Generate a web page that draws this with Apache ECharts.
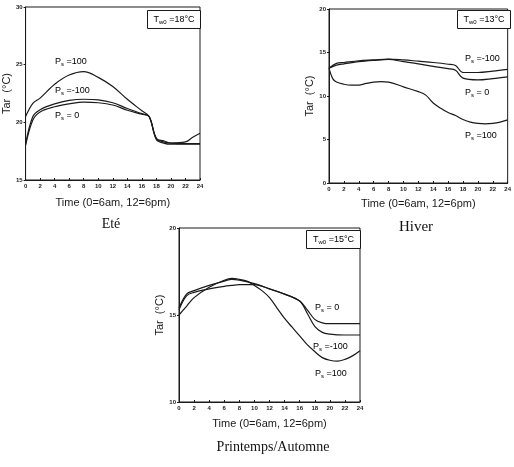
<!DOCTYPE html>
<html>
<head>
<meta charset="utf-8">
<script src="https://cdn.jsdelivr.net/npm/echarts@6/dist/echarts.min.js"></script>
<style>
  html, body { margin: 0; padding: 0; background: #fff; }
  #main { width: 514px; height: 467px; }
</style>
</head>
<body>
<div id="main"></div>
<script>
// x ticks (hours, 0 = 6am)
var hourTicks = [0, 2, 4, 6, 8, 10, 12, 14, 16, 18, 20, 22, 24];

// Eté  (Tw0 = 18°C)
var eteHours = [0, 1, 2, 4, 6, 8, 10, 12, 14, 16, 17, 18, 19, 20, 22, 23, 24];
var eteP100 = [20.5, 21.65, 22.1, 23.3, 24.1, 24.4, 23.9, 23.1, 22.0, 21.0, 20.5, 18.6, 18.4, 18.2, 18.3, 18.7, 19.05];
var eteM100 = [18.1, 20.5, 21.1, 21.6, 21.9, 22.0, 21.95, 21.7, 21.2, 20.75, 20.5, 18.6, 18.3, 18.2, 18.15, 18.15, 18.15];
var eteP0 = [18.0, 20.2, 20.9, 21.35, 21.6, 21.75, 21.7, 21.5, 21.05, 20.7, 20.5, 18.5, 18.2, 18.1, 18.1, 18.1, 18.1];

// Hiver  (Tw0 = 13°C)
var hivHours = [0, 1, 2, 4, 6, 8, 10, 12, 14, 16, 17, 18, 20, 22, 24];
var hivM100 = [13.2, 13.75, 13.85, 14.05, 14.15, 14.25, 14.15, 14.0, 13.85, 13.65, 13.5, 12.7, 12.7, 12.85, 13.05];
var hivP0 = [13.2, 13.55, 13.7, 13.95, 14.1, 14.2, 13.95, 13.7, 13.4, 13.15, 12.95, 12.05, 11.85, 12.0, 12.2];
var hivP100Hours = [0, 0.5, 1, 2, 3, 4, 5, 6, 7, 8, 10, 12, 13, 14, 15, 16, 17, 18, 19, 20, 21, 22, 23, 24];
var hivP100 = [13.2, 12.0, 11.6, 11.35, 11.25, 11.25, 11.45, 11.6, 11.65, 11.6, 11.05, 10.5, 10.1, 9.2, 8.6, 8.1, 7.75, 7.3, 7.0, 6.85, 6.8, 6.85, 7.0, 7.25];

// Printemps/Automne  (Tw0 = 15°C)
var prHours = [0, 1, 2, 4, 6, 7, 8, 10, 12, 14, 16, 17, 18, 19, 20, 22, 24];
var prM100 = [15.4, 16.2, 16.4, 16.7, 16.95, 17.05, 17.0, 16.8, 16.5, 16.2, 15.8, 15.1, 14.35, 14.0, 13.9, 13.85, 13.85];
var prP0 = [15.3, 16.1, 16.3, 16.5, 16.65, 16.7, 16.75, 16.75, 16.5, 16.2, 15.8, 15.3, 14.75, 14.55, 14.5, 14.5, 14.5];
var prP100Hours = [0, 1, 2, 4, 6, 7, 8, 9, 10, 11, 12, 13, 14, 15, 16, 17, 18, 19, 20, 21, 22, 23, 24];
var prP100 = [15.0, 15.5, 16.0, 16.6, 17.0, 17.1, 17.05, 16.95, 16.7, 16.4, 16.0, 15.4, 14.8, 14.3, 13.8, 13.3, 12.9, 12.55, 12.4, 12.35, 12.45, 12.65, 12.95];

var ink = '#1a1a1a';
var narrow = '"Liberation Sans Narrow", "Liberation Sans", sans-serif';

function pairs(xs, ys) {
  return xs.map(function (x, i) { return [x, ys[i]]; });
}

function xAxisFor(gridIndex, gap) {
  return {
    type: 'value', gridIndex: gridIndex, min: 0, max: 24, interval: 2,
    name: 'Time (0=6am, 12=6pm)', nameLocation: 'middle', nameGap: gap,
    nameTextStyle: { color: ink, fontSize: 11, fontFamily: narrow },
    axisLine: { lineStyle: { color: ink } },
    axisTick: { inside: true, length: 2, lineStyle: { color: ink } },
    axisLabel: { color: ink, fontSize: 6, fontWeight: 'bold', margin: 3, fontFamily: narrow,
      customValues: hourTicks },
    splitLine: { show: false }
  };
}

function yAxisFor(gridIndex, min, max, gap) {
  return {
    type: 'value', gridIndex: gridIndex, min: min, max: max, interval: 5,
    name: 'Tar  (°C)', nameLocation: 'middle', nameGap: gap, nameRotate: 90,
    nameTextStyle: { color: ink, fontSize: 11, fontFamily: narrow },
    axisLine: { lineStyle: { color: ink } },
    axisTick: { inside: false, length: 2, lineStyle: { color: ink } },
    axisLabel: { color: ink, fontSize: 6, fontWeight: 'bold', margin: 3, fontFamily: narrow },
    splitLine: { show: false }
  };
}

function line(idx, data) {
  return {
    type: 'line', xAxisIndex: idx, yAxisIndex: idx, data: data,
    smooth: 0.35, showSymbol: false, silent: true,
    lineStyle: { color: ink, width: 1.2 }
  };
}

var psRich = {
  p: { fontSize: 9, fontFamily: narrow, color: ink, lineHeight: 12 },
  s: { fontSize: 6, fontFamily: narrow, color: ink, verticalAlign: 'bottom', lineHeight: 8 }
};

function psLabel(x, y, txt) {
  return {
    type: 'text', left: x, top: y - 6,
    style: { text: '{p|P}{s|s}{p| ' + txt + '}', rich: psRich }
  };
}

function twBox(x, y, w, h, txt) {
  return {
    type: 'group', left: x, top: y,
    children: [
      { type: 'rect', shape: { x: 0, y: 0, width: w, height: h },
        style: { fill: '#fff', stroke: ink, lineWidth: 1 } },
      { type: 'text', x: w / 2, y: h / 2,
        style: { text: '{p|T}{s|w0}{p| =' + txt + '}', rich: psRich,
          align: 'center', verticalAlign: 'middle' } }
    ]
  };
}

function caption(cx, cy, txt, size) {
  return {
    type: 'text', x: cx, y: cy,
    style: { text: txt, fill: '#111', font: size + 'px "Liberation Serif", serif',
      align: 'center', verticalAlign: 'middle' }
  };
}

var chart = echarts.init(document.getElementById('main'), null, { renderer: 'canvas' });

chart.setOption({
  animation: false,
  backgroundColor: '#fff',
  grid: [
    { left: 20, top: 7, width: 180, height: 173, show: true, borderColor: ink, borderWidth: 1 },
    { left: 329, top: 9, width: 181, height: 174, show: true, borderColor: ink, borderWidth: 1 },
    { left: 179, top: 228, width: 181, height: 174, show: true, borderColor: ink, borderWidth: 1 }
  ],
  xAxis: [xAxisFor(0, 17), xAxisFor(1, 15), xAxisFor(2, 16)],
  yAxis: [yAxisFor(0, 15, 30, 10), yAxisFor(1, 0, 20, 13), yAxisFor(2, 10, 20, 11)],
  series: [
    line(0, pairs(eteHours, eteP100)),
    line(0, pairs(eteHours, eteM100)),
    line(0, pairs(eteHours, eteP0)),
    line(1, pairs(hivHours, hivM100)),
    line(1, pairs(hivHours, hivP0)),
    line(1, pairs(hivP100Hours, hivP100)),
    line(2, pairs(prHours, prM100)),
    line(2, pairs(prHours, prP0)),
    line(2, pairs(prP100Hours, prP100))
  ],
  graphic: [
    twBox(147, 10, 53, 18, '18°C'),
    twBox(457, 10, 53, 18, '13°C'),
    twBox(306, 230, 54, 18, '15°C'),
    psLabel(55, 63, '=100'),
    psLabel(55, 92, '=-100'),
    psLabel(55, 117, '= 0'),
    psLabel(465, 60, '=-100'),
    psLabel(465, 94, '= 0'),
    psLabel(465, 137, '=100'),
    psLabel(315, 309, '= 0'),
    psLabel(313, 348, '=-100'),
    psLabel(315, 375, '=100'),
    caption(111, 224, 'Eté', 14),
    caption(416, 227, 'Hiver', 15),
    caption(273, 447, 'Printemps/Automne', 14)
  ]
});
</script>
</body>
</html>
